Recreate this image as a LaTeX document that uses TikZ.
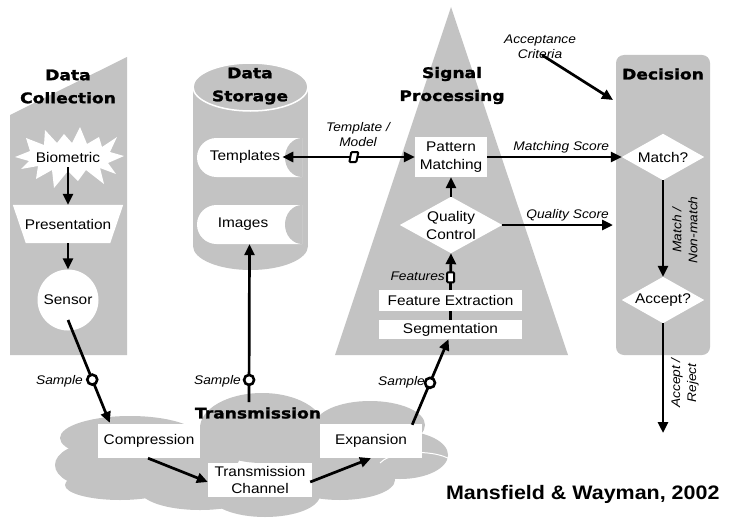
\documentclass[tikz,border=0pt]{standalone}
\usepackage{fontspec}
\setmainfont{Liberation Sans}[FakeStretch=1.1]
\newfontfamily\ttlfont{DejaVu Sans}[FakeStretch=1.18, FakeBold=1.6]
\usetikzlibrary{arrows.meta,shapes.geometric,calc}
\definecolor{panel}{RGB}{195,195,195}

\begin{document}
\begin{tikzpicture}[x=1pt,y=-1pt,
  tip/.tip={Triangle[length=11pt,width=10pt]},
  conn/.style={line width=2.7pt,-tip},
  twoway/.style={line width=2.7pt,tip-tip},
  plain/.style={line width=2.7pt},
  txt/.style={font=\fontsize{14}{18}\selectfont, align=center},
  box/.style={txt, fill=white, inner sep=0pt},
  hidden/.style={txt, inner sep=0pt},
  ttl/.style={font=\ttlfont\bfseries\fontsize{14.5}{23}\selectfont, align=center},
  lbl/.style={font=\itshape\fontsize{12.5}{15}\selectfont, align=center, inner sep=1pt},
  tap/.style={circle, draw=black, fill=white, line width=2.6pt, minimum size=10pt, inner sep=0pt},
  flag/.style={rectangle, rounded corners=1pt, draw=black, fill=white, line width=2pt,
               minimum width=7pt, minimum height=10pt, inner sep=0pt}
]
\useasboundingbox (0,0) rectangle (730,519);
\fill[white] (0,0) rectangle (730,519);

% ---------------- Data Collection ----------------
\fill[panel] (10,115) -- (127,57) -- (127,355) -- (10,355) -- cycle;
\node[ttl] (dctitle) at (68,86.5) {Data\\Collection};

% starburst behind the biometric label
\fill[white] (15,157) -- (30,151) -- (26,138) -- (44,145) -- (45,130) -- (57,143) -- (64,134)
  -- (72,143) -- (80,127) -- (87,144) -- (99,137) -- (102,147) -- (117,137) -- (110,152)
  -- (124,156) -- (108,163) -- (116,174) -- (100,168) -- (104,184) -- (86,170) -- (78,181)
  -- (68,171) -- (54,188) -- (52,170) -- (36,179) -- (38,166) -- (21,169) -- (29,161) -- cycle;
\node[hidden, minimum width=108pt, minimum height=40pt] (bio) at (68,157) {Biometric};

\node[hidden, minimum width=110pt, minimum height=38pt] (pres) at (68,224) {};
\fill[white] (pres.north west) -- (pres.north east) -- ($(pres.south east)+(-13,0)$) -- ($(pres.south west)+(13,0)$) -- cycle;
\node[txt] at (pres) {Presentation};

\node[circle, fill=white, minimum size=61pt, inner sep=0pt, txt] (sensor) at (68,300) {Sensor};

\draw[conn] ($(bio.center)+(0,10)$) -- (pres.north);
\draw[conn] (pres.south) -- (sensor.north);

% ---------------- Data Storage ----------------
\fill[panel] (193,87) rectangle (308,246);
\fill[panel] (250.5,246) ellipse [x radius=57.5, y radius=24];
\path[fill=panel, draw=white, line width=1.5pt] (250.5,87) ellipse [x radius=57.5, y radius=24];
\node[ttl] (dstitle) at (250,86) {Data\\Storage};

% record shapes: round on the left, hollowed on the right
\fill[white] (302,138) -- (216.5,138) arc[start angle=270, end angle=90, radius=19.5] -- (302,177) -- cycle;
\fill[panel] (302,138) arc[start angle=-90, end angle=-270, x radius=17, y radius=19.5] -- cycle;
\node[hidden, minimum width=105pt, minimum height=39pt] (tplbox) at (249.5,157.5) {};
\node[txt, inner sep=2pt] (tpl) at (245,157) {Templates};

\fill[white] (302,205) -- (216.5,205) arc[start angle=270, end angle=90, radius=19.5] -- (302,244) -- cycle;
\fill[panel] (302,205) arc[start angle=-90, end angle=-270, x radius=17, y radius=19.5] -- cycle;
\node[hidden, minimum width=105pt, minimum height=39pt] (imgbox) at (249.5,224.5) {};
\node[txt] (img) at (243,224) {Images};

% ---------------- Signal Processing ----------------
\fill[panel] (451,7) -- (568,355) -- (335,355) -- cycle;
\node[ttl] (sptitle) at (452,85.5) {Signal\\Processing};

\node[box, minimum width=72pt, minimum height=40pt] (pm) at (451,157) {Pattern\\Matching};

\node[hidden, minimum width=102pt, minimum height=56pt] (qc) at (451,225) {};
\fill[white] (qc.north) -- (qc.east) -- (qc.south) -- (qc.west) -- cycle;
\node[txt] at (qc) {Quality\\Control};

\node[box, minimum width=143pt, minimum height=21pt] (fe) at (450.5,300.5) {Feature Extraction};
\node[box, minimum width=143pt, minimum height=19pt] (seg) at (450.5,329.5) {Segmentation};

\draw[conn] (qc.north) -- (pm.south);
\draw[conn] (fe.north) -- node[flag, pos=0.34] (featflag) {} (qc.south);
\node[lbl, anchor=east] at (446,276) {Features};
\draw[plain] (seg.north) -- (fe.south);

% ---------------- Decision ----------------
\fill[panel, rounded corners=8pt] (616,55) rectangle (710,355);
\node[ttl] (dectitle) at (663,74) {Decision};

\node[hidden, minimum width=82pt, minimum height=46pt] (match) at (663,157) {};
\fill[white] (match.north) -- (match.east) -- (match.south) -- (match.west) -- cycle;
\node[txt] at (match) {Match?};

\node[hidden, minimum width=82pt, minimum height=46pt] (accept) at (663,300) {};
\fill[white] (accept.north) -- (accept.east) -- (accept.south) -- (accept.west) -- cycle;
\node[txt] at (accept) {Accept?};

\coordinate (critIn) at (613,100);
\coordinate (qualIn) at (613,225);
\coordinate (verdict) at (663,433);

\node[lbl] (crit) at (540,47) {Acceptance\\Criteria};
\draw[conn] ($(crit.south)+(2,-5)$) -- (critIn);

\draw[conn] (pm.east) -- node[lbl, pos=0.55, above=2pt] {Matching Score} (match.west);
\draw[conn] (qc.east) -- node[lbl, pos=0.59, above=2pt] {Quality Score} (qualIn);

\draw[conn] (match.south) -- (accept.north);
\node[lbl, rotate=90, font=\itshape\fontsize{12.5}{16}\selectfont] at (685,230) {Match /\\Non-match};
\draw[conn] (accept.south) -- (verdict);
\node[lbl, rotate=90, font=\itshape\fontsize{12.5}{16}\selectfont] at (685,383) {Accept /\\Reject};

% data store link
\draw[twoway] (tpl.east) -- node[flag, pos=0.54, xslant=0.2] (tmflag) {} (pm.west);
\node[lbl] at (358,135) {Template /\\Model};

% ---------------- Transmission ----------------
\begin{scope}[fill=panel]
  \fill (130,438) ellipse [x radius=70, y radius=22];
  \fill (95,465)  ellipse [x radius=40, y radius=22];
  \fill (120,485) ellipse [x radius=55, y radius=15];
  \fill (200,490) ellipse [x radius=60, y radius=20];
  \fill (265,495) ellipse [x radius=55, y radius=22];
  \fill (340,480) ellipse [x radius=55, y radius=20];
  \fill (400,455) ellipse [x radius=48, y radius=24];
  \fill (262,428) ellipse [x radius=62, y radius=35];
  \fill (370,425) ellipse [x radius=55, y radius=24];
  \fill (180,455) ellipse [x radius=60, y radius=30];
  \fill (320,460) ellipse [x radius=60, y radius=30];
\end{scope}
% faint seams between the cloud's lobes
\draw[white, line width=1pt] (380,463) arc[start angle=200, end angle=330, x radius=40, y radius=16];
\draw[white, line width=1pt] (195,397) arc[start angle=200, end angle=250, x radius=60, y radius=30];
\node[ttl] (trans) at (258,413) {Transmission};

\node[box, minimum width=102pt, minimum height=34pt] (comp) at (149,441) {Compression};
\node[box, minimum width=102pt, minimum height=34pt] (exp) at (371,441) {Expansion};
\node[box, minimum width=104pt, minimum height=34pt, font=\fontsize{14}{16.5}\selectfont] (chan) at (260,480) {Transmission\\Channel};

\draw[conn] ($(comp.south)+(-1,0)$) -- ($(chan.west)+(0,2)$);
\draw[conn] ($(chan.east)+(-2,2)$) -- (exp.south);

% sample links into and out of the channel
\coordinate (storeUp) at (249,402);
\draw[conn] ($(sensor.center)+(0,20)$) -- node[tap, pos=0.58] (s1) {} ($(comp.north west)+(12,-1)$);
\node[lbl, anchor=east] at (84,381) {Sample};
\draw[conn] (storeUp) -- node[tap, pos=0.14] (s2) {} (imgbox.south);
\node[lbl, anchor=east] at (242,381) {Sample};
\draw[conn] ($(exp.north east)+(-10,1)$) -- node[tap, pos=0.49] (s3) {} ($(seg.south)+(-2,0)$);
\node[lbl, anchor=east] at (426,382) {Sample};

\node[font=\bfseries\fontsize{19.5}{23}\selectfont, anchor=east] (cite) at (723,494) {Mansfield \& Wayman, 2002};
\end{tikzpicture}
\end{document}
